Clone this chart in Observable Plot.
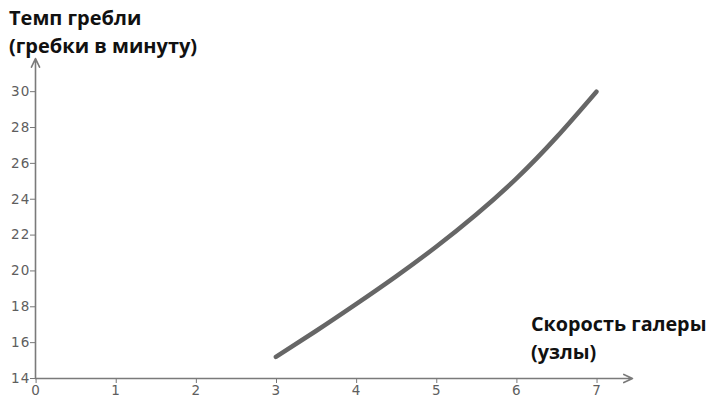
<!DOCTYPE html>
<html>
<head>
<meta charset="utf-8">
<script src="https://cdn.jsdelivr.net/npm/d3@7"></script>
<script src="https://cdn.jsdelivr.net/npm/@observablehq/plot@0.6"></script>
<style>
  html, body { margin: 0; padding: 0; background: #fff; }
  #wrap { position: relative; width: 720px; height: 413px; overflow: hidden; }
  #wrap svg { position: absolute; left: 0; top: 0; }
  .lbl { position: absolute; font-family: "Open Sans", sans-serif; font-weight: 700; color: #111; white-space: nowrap; }
  #ytitle { left: 9px; top: 4px; font-size: 20px; line-height: 28px; }
  #xtitle { left: 531px; top: 310px; font-size: 19.8px; line-height: 28px; }
  #wrap svg text { letter-spacing: 1.2px; font-family: "DejaVu Sans", sans-serif !important; font-size: 13.5px !important; }
</style>
</head>
<body>
<div id="wrap">
  <div class="lbl" id="ytitle">Темп гребли<br>(гребки в минуту)</div>
  <div class="lbl" id="xtitle">Скорость галеры<br>(узлы)</div>
</div>
<script>
const speed = [3, 3.5, 4, 4.5, 5, 5.5, 6, 6.5, 7];
const rate = [15.2, 16.65, 18.15, 19.7, 21.35, 23.15, 25.15, 27.45, 30.0];
const xTicks = [0, 1, 2, 3, 4, 5, 6, 7];
const yTicks = [14, 16, 18, 20, 22, 24, 26, 28, 30];
const xMin = 0, xMax = 7.45;
const yMin = 14, yMax = 31.85;

const curve = speed.map((s, i) => ({speed: s, rate: rate[i]}));
const axes = [
  {x1: xMin, y1: yMin, x2: xMax, y2: yMin},
  {x1: xMin, y1: yMin, x2: xMin, y2: yMax}
];

const chart = Plot.plot({
  width: 720,
  height: 413,
  marginLeft: 35,
  marginRight: 88,
  marginTop: 58,
  marginBottom: 35,
  style: {fontFamily: "DejaVu Sans, sans-serif", fontSize: "13.5px", color: "#5e5e5e", background: "transparent"},
  x: {domain: [xMin, xMax], label: null},
  y: {domain: [yMin, yMax], label: null},
  marks: [
    Plot.axisX({ticks: xTicks, tickSize: 5, tickPadding: 2, label: null, stroke: "#777", fill: "#5e5e5e", fontSize: 13.5, tickFormat: d => d, dx: 0.6}),
    Plot.axisY({ticks: yTicks, tickSize: 5, tickPadding: 0, label: null, stroke: "#777", fill: "#5e5e5e", fontSize: 13.5, tickFormat: d => d}),
    Plot.arrow(axes, {x1: "x1", y1: "y1", x2: "x2", y2: "y2", stroke: "#7a7a7a", strokeWidth: 1.6, headLength: 9, headAngle: 50}),
    Plot.line(curve, {x: "speed", y: "rate", curve: "natural", stroke: "#666", strokeWidth: 4.5, strokeLinecap: "round"})
  ]
});
document.getElementById("wrap").prepend(chart);
</script>
</body>
</html>
